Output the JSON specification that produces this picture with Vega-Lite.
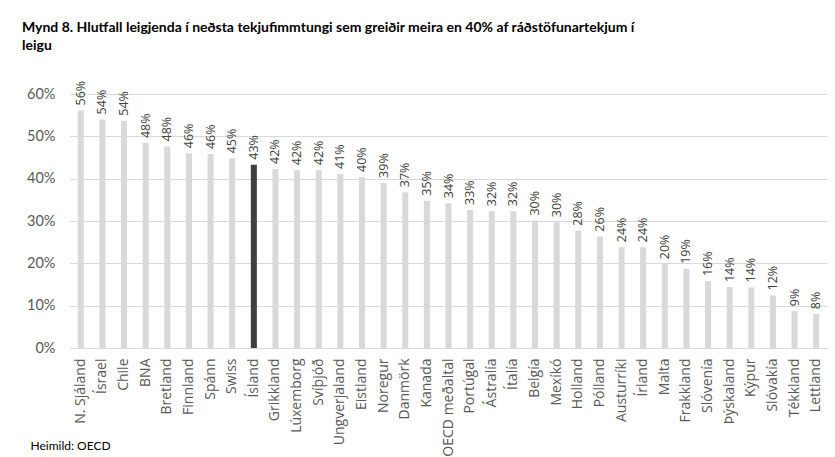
{
  "$schema": "https://vega.github.io/schema/vega-lite/v6.json",
  "width": 757,
  "height": 254,
  "autosize": {"type": "none"},
  "padding": {"left": 70, "top": 94, "right": 8, "bottom": 109},
  "background": "white",
  "title": {
    "text": ["Mynd 8. Hlutfall leigjenda í neðsta tekjufimmtungi sem greiðir meira en 40% af ráðstöfunartekjum í", "leigu"],
    "anchor": "start",
    "frame": "group",
    "dx": -48,
    "dy": -18,
    "font": "Lato",
    "fontSize": 14,
    "fontWeight": "bold",
    "color": "#000000",
    "lineHeight": 18,
    "offset": 10
  },
  "config": {
    "view": {"stroke": null}
  },
  "data": {
    "values": [
      {"land": "N. Sjáland", "hlutfall": 0.561},
      {"land": "Ísrael", "hlutfall": 0.540},
      {"land": "Chile", "hlutfall": 0.537},
      {"land": "BNA", "hlutfall": 0.484},
      {"land": "Bretland", "hlutfall": 0.476},
      {"land": "Finnland", "hlutfall": 0.460},
      {"land": "Spánn", "hlutfall": 0.458},
      {"land": "Swiss", "hlutfall": 0.448},
      {"land": "Ísland", "hlutfall": 0.433},
      {"land": "Grikkland", "hlutfall": 0.423},
      {"land": "Lúxemborg", "hlutfall": 0.420},
      {"land": "Svíþjóð", "hlutfall": 0.420},
      {"land": "Ungverjaland", "hlutfall": 0.411},
      {"land": "Eistland", "hlutfall": 0.404},
      {"land": "Noregur", "hlutfall": 0.390},
      {"land": "Danmörk", "hlutfall": 0.368},
      {"land": "Kanada", "hlutfall": 0.348},
      {"land": "OECD meðaltal", "hlutfall": 0.342},
      {"land": "Portúgal", "hlutfall": 0.326},
      {"land": "Ástralía", "hlutfall": 0.323},
      {"land": "Ítalía", "hlutfall": 0.323},
      {"land": "Belgía", "hlutfall": 0.301},
      {"land": "Mexíkó", "hlutfall": 0.297},
      {"land": "Holland", "hlutfall": 0.277},
      {"land": "Pólland", "hlutfall": 0.263},
      {"land": "Austurríki", "hlutfall": 0.238},
      {"land": "Írland", "hlutfall": 0.238},
      {"land": "Malta", "hlutfall": 0.198},
      {"land": "Frakkland", "hlutfall": 0.187},
      {"land": "Slóvenía", "hlutfall": 0.158},
      {"land": "Þýskaland", "hlutfall": 0.144},
      {"land": "Kýpur", "hlutfall": 0.143},
      {"land": "Slóvakía", "hlutfall": 0.124},
      {"land": "Tékkland", "hlutfall": 0.087},
      {"land": "Lettland", "hlutfall": 0.080}
    ]
  },
  "encoding": {
    "x": {
      "field": "land",
      "type": "nominal",
      "sort": null,
      "scale": {"paddingInner": 0.72, "paddingOuter": 0.36},
      "axis": {
        "labelAngle": 270,
        "labelAlign": "right",
        "labelBaseline": "middle",
        "labelPadding": 10,
        "labelFont": "Open Sans",
        "labelFontSize": 14,
        "labelColor": "#595959",
        "ticks": false,
        "domain": true,
        "domainColor": "#d9d9d9",
        "domainWidth": 1,
        "title": "Heimild: OECD",
        "titleAnchor": "start",
        "titleAlign": "left",
        "titleBaseline": "middle",
        "titleX": -40,
        "titleY": 97,
        "titleFont": "Lato",
        "titleFontSize": 12,
        "titleFontWeight": "normal",
        "titleColor": "#000000"
      }
    },
    "y": {
      "field": "hlutfall",
      "type": "quantitative",
      "scale": {"domain": [0, 0.6], "nice": false},
      "axis": {
        "values": [0, 0.1, 0.2, 0.3, 0.4, 0.5, 0.6],
        "format": ".0%",
        "title": null,
        "domain": false,
        "ticks": false,
        "grid": true,
        "gridColor": "#d9d9d9",
        "gridWidth": 1,
        "labelPadding": 15,
        "labelFont": "Lato",
        "labelFontSize": 14.5,
        "labelColor": "#595959"
      }
    }
  },
  "layer": [
    {
      "mark": {"type": "bar"},
      "encoding": {
        "color": {
          "condition": {"test": "datum.land === 'Ísland'", "value": "#404040"},
          "value": "#d9d9d9"
        }
      }
    },
    {
      "mark": {
        "type": "text",
        "angle": 270,
        "align": "left",
        "baseline": "middle",
        "dx": 5,
        "font": "Open Sans",
        "fontSize": 12.5,
        "color": "#404040"
      },
      "encoding": {
        "text": {"field": "hlutfall", "type": "quantitative", "format": ".0%"}
      }
    }
  ]
}
